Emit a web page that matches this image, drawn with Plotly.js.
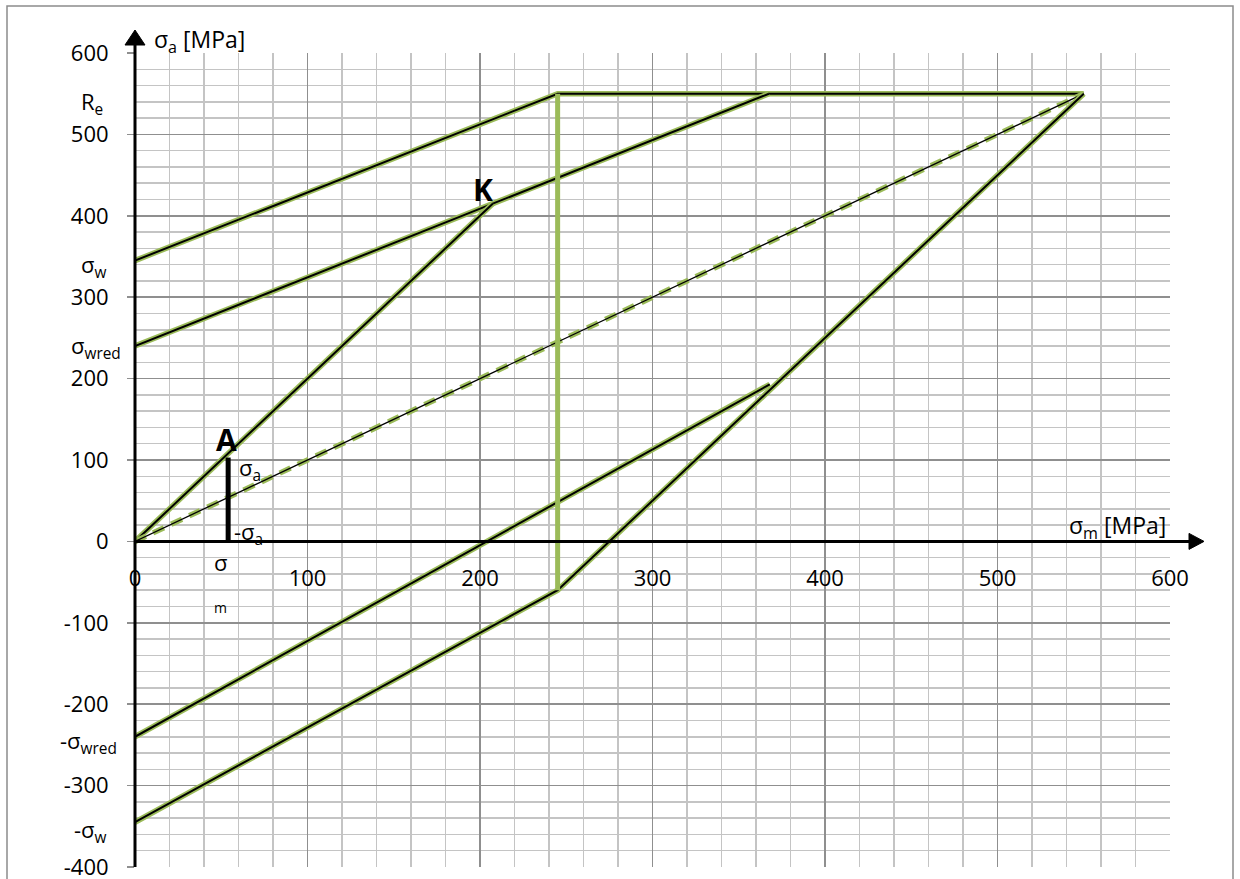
<!DOCTYPE html>
<html>
<head>
<meta charset="utf-8">
<script src="https://cdn.plot.ly/plotly-3.0.1.min.js"></script>
<style>
  html, body { margin: 0; padding: 0; background: #ffffff; }
  #chart { width: 1240px; height: 879px; }
</style>
</head>
<body>
<div id="chart"></div>
<script>
// Smith-type fatigue strength diagram: amplitude stress vs. mean stress (MPa)

// Upper limit line: sigma_w at zero mean stress, rising to the yield limit R_e
const upperX = [0, 245, 550];
const upperY = [345, 550, 550];

// Reduced endurance line through point K up to R_e
const reducedX = [0, 207.5, 367.5];
const reducedY = [240, 415, 550];

// Load line from the origin through working point A to K
const loadX = [0, 207.5];
const loadY = [0, 415];

// Mean stress line (sigma_a = sigma_m), dashed
const meanX = [0, 550];
const meanY = [0, 550];

// Lower limit line: -sigma_w, bend at the R_e cut-off, up to the top corner
const lowerX = [0, 245, 550];
const lowerY = [-345, -60, 550];

// Reduced lower line from -sigma_wred
const lowerRedX = [0, 368];
const lowerRedY = [-240, 193];

// Yield cut-off (vertical)
const cutX = [245, 245];
const cutY = [550, -60];

// Working point amplitude bar at sigma_m
const ampX = [54, 54];
const ampY = [0, 103];

// Axis ticks
const xTicks = [0, 100, 200, 300, 400, 500, 600];
const yTicks = [-400, -300, -200, -100, 0, 100, 200, 300, 400, 500, 600];

const GREEN = '#9bbb59';
const FONT = '"Open Sans", "DejaVu Sans", sans-serif';

// Pixel -> paper helpers for layout decorations
const L = 135, R = 1170, T = 53, B = 867;
const px = v => (v - L) / (R - L);
const py = v => (B - v) / (B - T);

function pair(x, y, opts) {
  const o = opts || {};
  return [
    { x: x, y: y, type: 'scatter', mode: 'lines', hoverinfo: 'skip', showlegend: false,
      line: { color: GREEN, width: o.gw || 5.5, dash: o.gdash || 'solid' } },
    { x: x, y: y, type: 'scatter', mode: 'lines', hoverinfo: 'skip', showlegend: false,
      line: { color: '#000000', width: o.bw || 2 } }
  ];
}

const traces = [].concat(
  pair(upperX, upperY),
  pair(reducedX, reducedY),
  pair(loadX, loadY),
  pair(meanX, meanY, { gdash: '12px,8px', bw: 1.3 }),
  pair(lowerX, lowerY),
  pair(lowerRedX, lowerRedY),
  [{ x: cutX, y: cutY, type: 'scatter', mode: 'lines', hoverinfo: 'skip', showlegend: false,
     line: { color: GREEN, width: 5 } }],
  [{ x: ampX, y: ampY, type: 'scatter', mode: 'lines', hoverinfo: 'skip', showlegend: false,
     line: { color: '#000000', width: 5 } }]
);

function label(text, xp, yp, xanchor, size, bold) {
  return {
    xref: 'paper', yref: 'paper', x: px(xp), y: py(yp),
    xanchor: xanchor || 'center', yanchor: 'middle',
    text: bold ? '<b>' + text + '</b>' : text,
    showarrow: false,
    font: { family: FONT, size: size || 22, color: '#000000' }
  };
}

const annotations = [
  label('σ<sub>a</sub> [MPa]', 152, 40, 'left', 23),
  label('σ<sub>m</sub> [MPa]', 1067, 526, 'left', 23),
  label('R<sub>e</sub>', 105, 103, 'right'),
  label('σ<sub>w</sub>', 108, 266, 'right'),
  label('σ<sub>wred</sub>', 123, 347, 'right'),
  label('-σ<sub>wred</sub>', 119, 742, 'right'),
  label('-σ<sub>w</sub>', 109, 831, 'right'),
  label('K', 483, 189, 'center', 30, true),
  label('A', 226, 439, 'center', 30, true),
  label('σ<sub>a</sub>', 237, 469, 'left'),
  label('-σ<sub>a</sub>', 232, 533, 'left'),
  label('σ', 220, 562, 'center'),
  label('m', 220, 607, 'center', 14)
];

const shapes = [
  // chart area frame
  { type: 'rect', xref: 'paper', yref: 'paper', layer: 'below',
    x0: px(7), x1: px(1233), y0: py(900), y1: py(6),
    line: { color: '#8c8c8c', width: 1.5 }, fillcolor: 'rgba(0,0,0,0)' },
  // vertical axis with arrow
  { type: 'line', xref: 'paper', yref: 'paper', x0: 0, x1: 0, y0: 0, y1: py(42),
    line: { color: '#000000', width: 3 } },
  { type: 'path', xref: 'paper', yref: 'paper',
    path: 'M' + px(135) + ',' + py(30) + ' L' + px(125) + ',' + py(45) + ' L' + px(145) + ',' + py(45) + ' Z',
    fillcolor: '#000000', line: { color: '#000000', width: 1 } },
  // horizontal axis with arrow
  { type: 'line', xref: 'paper', yref: 'paper', x0: 0, x1: px(1192), y0: 0.4, y1: 0.4,
    line: { color: '#000000', width: 3 } },
  { type: 'path', xref: 'paper', yref: 'paper',
    path: 'M' + px(1204) + ',0.4 L' + px(1189) + ',' + (0.4 + 8 / (B - T)) + ' L' + px(1189) + ',' + (0.4 - 8 / (B - T)) + ' Z',
    fillcolor: '#000000', line: { color: '#000000', width: 1 } }
];

const layout = {
  width: 1240, height: 879,
  margin: { l: L, r: 1240 - R, t: T, b: 879 - B, pad: 0 },
  paper_bgcolor: '#ffffff', plot_bgcolor: '#ffffff',
  showlegend: false,
  font: { family: FONT, size: 22, color: '#000000' },
  xaxis: {
    range: [0, 600], tickvals: xTicks, ticktext: xTicks.map(String),
    anchor: 'free', position: 0.4,
    showline: false, zeroline: false, ticks: '',
    ticklabelstandoff: 22, ticklabeloverflow: 'allow',
    showgrid: true, gridcolor: '#8f8f8f', gridwidth: 1.5,
    minor: { dtick: 20, tick0: 0, showgrid: true, gridcolor: '#c4c4c4', gridwidth: 1.5 },
    tickfont: { family: FONT, size: 22, color: '#000000' },
    fixedrange: true
  },
  yaxis: {
    range: [-400, 600], tickvals: yTicks, ticktext: yTicks.map(String),
    showline: false, zeroline: false,
    ticks: 'outside', ticklen: 7, tickwidth: 1.5, tickcolor: '#8f8f8f',
    ticklabelstandoff: 14, ticklabeloverflow: 'allow',
    showgrid: true, gridcolor: '#8f8f8f', gridwidth: 1.5,
    minor: { dtick: 20, tick0: 0, showgrid: true, gridcolor: '#c4c4c4', gridwidth: 1.5 },
    tickfont: { family: FONT, size: 22, color: '#000000' },
    fixedrange: true
  },
  annotations: annotations,
  shapes: shapes
};

Plotly.newPlot('chart', traces, layout, { staticPlot: true, displayModeBar: false });
</script>
</body>
</html>
